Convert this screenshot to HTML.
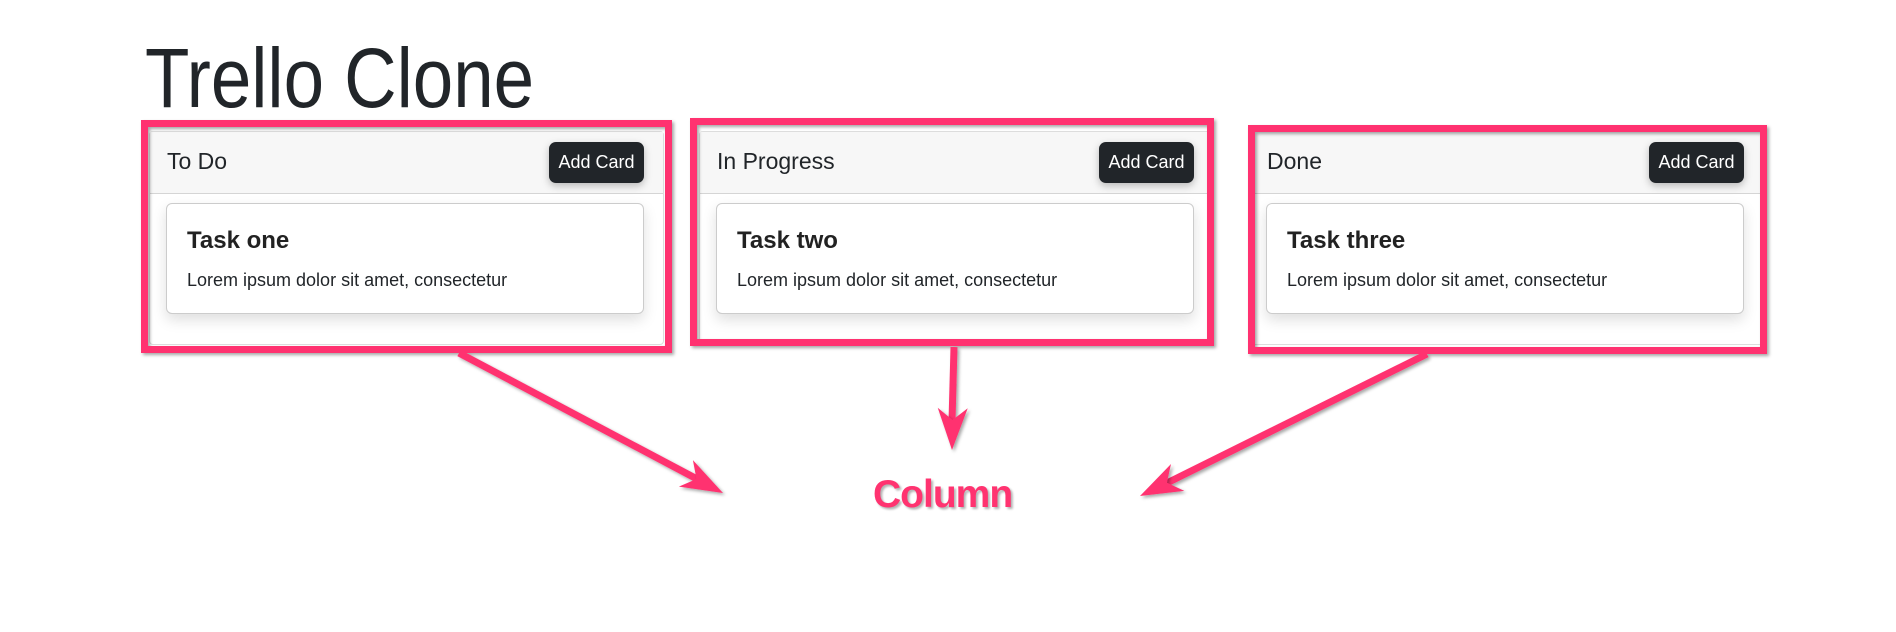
<!DOCTYPE html>
<html><head><meta charset="utf-8"><style>
body{margin:0;width:1896px;height:632px;background:#fff;position:relative;overflow:hidden;font-family:"Liberation Sans",sans-serif;color:#212529}
.t{position:absolute;left:145px;top:30px;font-size:84px;font-weight:300;color:#212529;line-height:96px;transform:scaleX(0.865);transform-origin:0 0;white-space:nowrap}
.col{position:absolute;top:131px;width:515px;height:214px;background:#fff;border:1px solid #ddd;border-radius:4px;box-sizing:border-box}
.hd{height:61px;background:#f7f7f7;border-bottom:1px solid #d5d5d5;position:relative}
.hd span{position:absolute;left:17px;top:16px;font-size:23px}
.btn{position:absolute;left:399px;top:10px;width:95px;height:41px;background:#212529;color:#fff;border-radius:7px;font-size:18px;line-height:41px;text-align:center;box-shadow:0 3px 8px rgba(0,0,0,.25)}
.card{position:absolute;left:16px;top:71px;width:478px;height:111px;border:1px solid #ccc;border-radius:6px;box-sizing:border-box;box-shadow:0 6px 14px rgba(0,0,0,.13);background:#fff}
.card b{position:absolute;left:20px;top:23px;font-size:24px;font-weight:bold;color:#222}
.card p{position:absolute;left:20px;top:66px;margin:0;font-size:18px}
svg{position:absolute;left:0;top:0}
.lbl{position:absolute;left:873px;top:473px;font-size:39px;font-weight:bold;color:#ff3370;text-shadow:2px 2px 2px rgba(0,0,0,.3);letter-spacing:-1px}
</style></head><body>
<div class="t">Trello Clone</div>
<div class="col" style="left:149px"><div class="hd"><span>To Do</span><div class="btn">Add Card</div></div><div class="card"><b>Task one</b><p>Lorem ipsum dolor sit amet, consectetur</p></div></div>
<div class="col" style="left:699px"><div class="hd"><span>In Progress</span><div class="btn">Add Card</div></div><div class="card"><b>Task two</b><p>Lorem ipsum dolor sit amet, consectetur</p></div></div>
<div class="col" style="left:1249px"><div class="hd"><span>Done</span><div class="btn">Add Card</div></div><div class="card"><b>Task three</b><p>Lorem ipsum dolor sit amet, consectetur</p></div></div>
<svg width="1896" height="632">
<defs>
<filter id="s" x="-10%" y="-10%" width="120%" height="120%"><feDropShadow dx="2" dy="2" stdDeviation="1.5" flood-color="#000" flood-opacity="0.35"/></filter>
</defs>
<g filter="url(#s)" fill="none" stroke="#ff3370" stroke-width="7">
<rect x="144.5" y="123.5" width="524" height="226"/>
<rect x="693.5" y="121.5" width="517" height="221"/>
<rect x="1251.5" y="128.5" width="512" height="222"/>
<line x1="459" y1="353" x2="697" y2="479"/>
<line x1="954" y1="347" x2="952" y2="422"/>
<line x1="1427" y1="354" x2="1167" y2="483"/>
</g>
<g filter="url(#s)" fill="#ff3370">
<polygon points="0,0 -42,-15 -30,0 -42,15" transform="translate(723,493) rotate(27.9)"/>
<polygon points="0,0 -42,-15 -30,0 -42,15" transform="translate(952,450) rotate(91)"/>
<polygon points="0,0 -42,-15 -30,0 -42,15" transform="translate(1140,496) rotate(153.7)"/>
</g>
</svg>
<div class="lbl">Column</div>
</body></html>
